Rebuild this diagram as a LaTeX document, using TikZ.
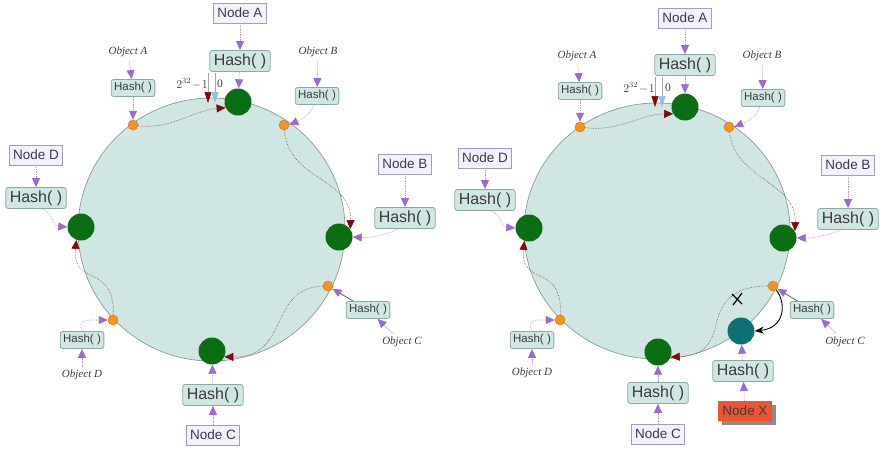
\documentclass[tikz,border=0pt]{standalone}
\usepackage{fontspec}
\newfontfamily\lsans{Liberation Sans}
\newfontfamily\lserif{Liberation Serif}
\usetikzlibrary{arrows.meta,shadows}
\definecolor{ringfill}{HTML}{D0E6E3}
\definecolor{ringdraw}{HTML}{8C9C9A}
\definecolor{hashfill}{HTML}{CFE6E2}
\definecolor{hashdraw}{HTML}{8FA8A4}
\definecolor{lblfill}{HTML}{F2F2FB}
\definecolor{lbldraw}{HTML}{A09CC4}
\definecolor{gnode}{HTML}{0A6E12}
\definecolor{tnode}{HTML}{0E7072}
\definecolor{odot}{HTML}{F39422}
\definecolor{odraw}{HTML}{E07A10}
\definecolor{parrow}{HTML}{9A6CCE}
\definecolor{pline}{HTML}{B098C8}
\definecolor{dred}{HTML}{7E0A0A}
\definecolor{lblue}{HTML}{8EC3E6}
\definecolor{xfill}{HTML}{EC5530}
\definecolor{txt}{HTML}{3C3C3C}
\definecolor{ltxt}{HTML}{3A3A52}
\tikzset{
  ring/.style={draw=ringdraw, fill=ringfill, line width=0.7pt},
  hashL/.style={draw=hashdraw, fill=hashfill, rounded corners=2.5pt, text=txt,
    font=\lsans\fontsize{16}{16}\selectfont, inner xsep=4pt, inner ysep=1pt,
    minimum height=21pt, line width=0.8pt},
  hashS/.style={hashL, font=\lsans\fontsize{11.5}{12}\selectfont, inner xsep=3pt,
    minimum height=17pt},
  nlbl/.style={draw=lbldraw, fill=lblfill, text=ltxt,
    font=\lsans\fontsize{13.5}{14}\selectfont, inner xsep=4pt, inner ysep=1pt,
    minimum height=20pt, line width=0.8pt},
  xlbl/.style={nlbl, draw=none, fill=xfill, text=txt,
    drop shadow={shadow xshift=4pt, shadow yshift=-4pt, fill=gray!90, opacity=1}},
  olbl/.style={text=txt, font=\lserif\itshape\fontsize{11}{11}\selectfont},
  gdot/.style={circle, fill=gnode, minimum size=27pt, inner sep=0pt},
  tdot/.style={circle, fill=tnode, minimum size=27pt, inner sep=0pt},
  odotst/.style={circle, fill=odot, draw=odraw, line width=0.5pt, minimum size=10pt, inner sep=0pt},
  parr/.style={draw=pline, densely dotted, line width=0.7pt,
    -{Triangle[length=9pt,width=8pt,color=parrow]}},
  parrS/.style={draw=gray!75!black, line width=0.8pt,
    -{Triangle[length=9pt,width=8pt,color=parrow]}},
  parrT/.style={draw=gray!60, line width=0.5pt,
    -{Triangle[length=9pt,width=8pt,color=parrow]}},
  ringarr/.style={draw=dred!40!gray, densely dotted, line width=0.6pt,
    -{Triangle[length=9pt,width=8pt,color=dred]}},
  vline/.style={draw=gray!70, line width=0.6pt},
  lbl32/.style={text=txt, font=\lserif\fontsize{11.5}{11.5}\selectfont, inner sep=0pt},
}
\begin{document}
\begin{tikzpicture}[x=1pt,y=-1pt]
\fill[white] (0,0) rectangle (887,456);
\useasboundingbox (0,0) rectangle (887,456);

% ================= LEFT =================
\draw[ring] (211.5,229.5) ellipse [x radius=133.5, y radius=131.5];

\node[gdot] (LgA) at (238,102) {};
\node[gdot] (LgB) at (339,237) {};
\node[gdot] (LgC) at (212,351) {};
\node[gdot] (LgD) at (81,227) {};
\node[odotst] (LdA) at (133,125) {};
\node[odotst] (LdB) at (284,125) {};
\node[odotst] (LdC) at (328,286) {};
\node[odotst] (LdD) at (113,320) {};

\node[nlbl] (LnA) at (240,13) {Node A};
\node[hashL] (LhA) at (240,61) {Hash( )};
\node[nlbl] (LnB) at (405,164) {Node B};
\node[hashL] (LhB) at (405,218) {Hash( )};
\node[nlbl] (LnC) at (213,435) {Node C};
\node[hashL] (LhC) at (213,395) {Hash( )};
\node[nlbl] (LnD) at (36,155) {Node D};
\node[hashL] (LhD) at (36,198) {Hash( )};

\node[olbl] (LoA) at (128,52) {Object A};
\node[hashS] (LsA) at (133,88) {Hash( )};
\node[olbl] (LoB) at (318,52) {Object B};
\node[hashS] (LsB) at (317,96) {Hash( )};
\node[olbl] (LoC) at (402,342) {Object C};
\node[hashS] (LsC) at (368,310) {Hash( )};
\node[olbl] (LoD) at (82,375) {Object D};
\node[hashS] (LsD) at (82,340) {Hash( )};

\node[lbl32] (L32) at (192,84) {$2^{32}\!-\!1$};
\node[lbl32] (L0) at (220,84) {0};
\coordinate (Lr1) at (208,73); \coordinate (Lr2) at (208,103);
\coordinate (Lb1) at (215,73); \coordinate (Lb2) at (215,103);
\draw[vline, -{Triangle[length=11pt,width=7pt,color=dred]}] (Lr1) -- (Lr2);
\draw[vline, -{Triangle[length=11pt,width=7pt,color=lblue]}] (Lb1) -- (Lb2);

\draw[parr] (LnA) -- (LhA);
\draw[parr] (LhA) -- (LgA);
\draw[parr] (LnB) -- (LhB);
\draw[parr] (LhB.-120) .. controls (382,236) and (370,238) .. (LgB.east);
\draw[parr] (LnC) -- (LhC);
\draw[parr] (LhC) -- (LgC);
\draw[parr] (LnD) -- (LhD);
\draw[parr] (LhD.-70) .. controls (53,210) and (52,226) .. (LgD.west);
\draw[parr] (LoA) -- (LsA);
\draw[parr] (LsA) -- (LdA);
\draw[parr] (LoB) -- (LsB);
\draw[parr] (LsB.-110) .. controls (310,116) and (300,120) .. (LdB.east);
\draw[parrT] (LoC) -- (LsC);
\draw[parrS] (LsC) -- (LdC);
\draw[parr] (LoD) -- (LsD);
\draw[parr] (LsD.north) .. controls (76,318) and (92,320) .. (LdD.west);

\draw[ringarr] (LdA) .. controls (170,130) and (195,110) .. (LgA.205);
\draw[ringarr] (LdB) .. controls (288,180) and (352,178) .. (LgB.35);
\draw[ringarr] (LdC) .. controls (268,288) and (290,358) .. (LgC.335);
\draw[ringarr] (LdD) .. controls (115,262) and (72,288) .. (LgD.250);

% ================= RIGHT =================
\draw[ring] (657,231) ellipse [x radius=133, y radius=128];

\node[gdot] (RgA) at (685,107) {};
\node[gdot] (RgB) at (783,238) {};
\node[gdot] (RgC) at (658,352) {};
\node[gdot] (RgD) at (529,228) {};
\node[tdot] (RgX) at (741,331) {};
\node[odotst] (RdA) at (580,127) {};
\node[odotst] (RdB) at (729,127) {};
\node[odotst] (RdC) at (773,286) {};
\node[odotst] (RdD) at (560,320) {};

\node[nlbl] (RnA) at (685,18) {Node A};
\node[hashL] (RhA) at (685,65) {Hash( )};
\node[nlbl] (RnB) at (848,165) {Node B};
\node[hashL] (RhB) at (848,219) {Hash( )};
\node[nlbl] (RnC) at (658,434) {Node C};
\node[hashL] (RhC) at (658,393) {Hash( )};
\node[nlbl] (RnD) at (485,158) {Node D};
\node[hashL] (RhD) at (485,200) {Hash( )};
\node[xlbl] (RnX) at (745,411) {Node X};
\node[hashL] (RhX) at (743,371) {Hash( )};

\node[olbl] (RoA) at (577,56) {Object A};
\node[hashS] (RsA) at (580,91) {Hash( )};
\node[olbl] (RoB) at (762,56) {Object B};
\node[hashS] (RsB) at (763,98) {Hash( )};
\node[olbl] (RoC) at (845,342) {Object C};
\node[hashS] (RsC) at (812,310) {Hash( )};
\node[olbl] (RoD) at (532,373) {Object D};
\node[hashS] (RsD) at (532,340) {Hash( )};

\node[lbl32] (R32) at (639,88) {$2^{32}\!-\!1$};
\node[lbl32] (R0) at (668,88) {0};
\coordinate (Rr1) at (655,77); \coordinate (Rr2) at (655,107);
\coordinate (Rb1) at (662,77); \coordinate (Rb2) at (662,107);
\draw[vline, -{Triangle[length=11pt,width=7pt,color=dred]}] (Rr1) -- (Rr2);
\draw[vline, -{Triangle[length=11pt,width=7pt,color=lblue]}] (Rb1) -- (Rb2);

\draw[parr] (RnA) -- (RhA);
\draw[parr] (RhA) -- (RgA);
\draw[parr] (RnB) -- (RhB);
\draw[parr] (RhB.-120) .. controls (826,236) and (814,238) .. (RgB.east);
\draw[parr] (RnC) -- (RhC);
\draw[parr] (RhC) -- (RgC);
\draw[parr] (RnD) -- (RhD);
\draw[parr] (RhD.-70) .. controls (502,212) and (500,227) .. (RgD.west);
\draw[parr] (RnX) -- (RhX);
\draw[parr] (RhX) -- (RgX);
\draw[parr] (RoA) -- (RsA);
\draw[parr] (RsA) -- (RdA);
\draw[parr] (RoB) -- (RsB);
\draw[parr] (RsB.-110) .. controls (756,118) and (746,122) .. (RdB.east);
\draw[parrT] (RoC) -- (RsC);
\draw[parrS] (RsC) -- (RdC);
\draw[parr] (RoD) -- (RsD);
\draw[parr] (RsD.north) .. controls (525,318) and (540,320) .. (RdD.west);

\draw[ringarr] (RdA) .. controls (620,132) and (640,114) .. (RgA.210);
\draw[ringarr] (RdB) .. controls (735,180) and (797,182) .. (RgB.30);
\draw[ringarr] (RdC) .. controls (740,286) and (722,296) .. (716,325)
   .. controls (710,352) and (695,356) .. (RgC.338);
\draw[ringarr] (RdD) .. controls (563,262) and (520,288) .. (RgD.250);
\draw[line width=0.9pt, -{Stealth[length=9pt,width=7pt]}]
   (RdC) .. controls (786,302) and (786,328) .. (RgX.east);
\coordinate (RxA) at (732,294); \coordinate (RxB) at (742,304);
\coordinate (RxC) at (742,293); \coordinate (RxD) at (733,305);
\draw[line width=1.2pt] (RxA) -- (RxB);
\draw[line width=1.2pt] (RxC) -- (RxD);
\end{tikzpicture}
\end{document}
